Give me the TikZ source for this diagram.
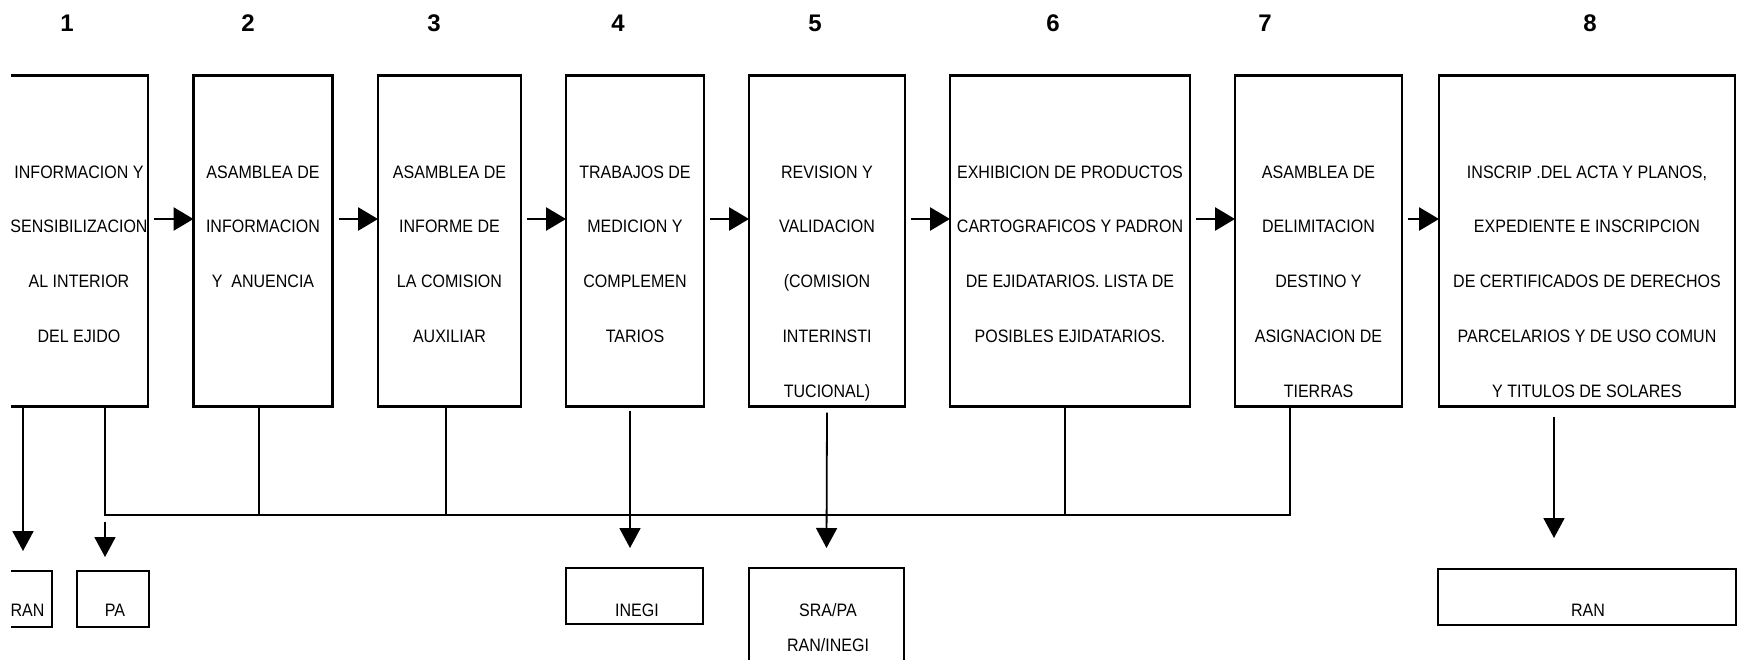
\documentclass[tikz,border=0pt]{standalone}
\usepackage{fontspec}
\setmainfont[FakeStretch=0.89]{Liberation Sans}
\newfontfamily\numfont{Liberation Sans}
\usetikzlibrary{arrows.meta,positioning}

\tikzset{
    stage/.style={draw, line width=2.4pt, inner sep=0pt, outer sep=0pt, minimum height=331pt},
    office/.style={draw, line width=2.4pt, inner sep=0pt, outer sep=0pt, minimum height=56pt},
    stagetext/.style={align=center, inner sep=0pt, anchor=north, font=\fontsize{18}{54.7}\selectfont},
    officetext/.style={align=center, inner sep=0pt, anchor=north, font=\fontsize{18}{35}\selectfont},
    stepno/.style={inner sep=0pt, font=\numfont\bfseries\fontsize{24}{24}\selectfont},
    flow/.style={line width=2.8pt, -{Triangle[length=20pt,width=23pt]}, shorten <=6pt},
    drop/.style={line width=1.8pt, -{Triangle[length=20pt,width=21pt]}},
    link/.style={line width=1.8pt}
}

\begin{document}
\begin{tikzpicture}[x=1pt, y=-1pt]
                \useasboundingbox (0,0) rectangle (1741,659);
                \clip (11,-10) rectangle (1760,680);
                % numbers
                \node[stepno] (n1) at (67,23.5) {1};
                \node[stepno] (n2) at (248,23.5) {2};
                \node[stepno] (n3) at (434,23.5) {3};
                \node[stepno] (n4) at (618,23.5) {4};
                \node[stepno] (n5) at (815,23.5) {5};
                \node[stepno] (n6) at (1053,23.5) {6};
                \node[stepno] (n7) at (1265,23.5) {7};
                \node[stepno] (n8) at (1590,23.5) {8};
                % stages
                \node[stage, minimum width=142pt] (b1) at (77,241) {};
                \node[stage, minimum width=139pt] (b2) at (263,241) {};
                \node[stage, minimum width=143pt] (b3) at (449.5,241) {};
                \node[stage, minimum width=138pt] (b4) at (635,241) {};
                \node[stage, minimum width=156pt] (b5) at (827,241) {};
                \node[stage, minimum width=240pt] (b6) at (1070,241) {};
                \node[stage, minimum width=167pt] (b7) at (1318.5,241) {};
                \node[stage, minimum width=296pt] (b8) at (1587,241) {};
                \node[stagetext, below=90pt of b1.north, xshift=2pt] (t1) {INFORMACION Y\\SENSIBILIZACION\\AL INTERIOR\\DEL EJIDO};
                \node[stagetext, below=90pt of b2.north] (t2) {ASAMBLEA DE\\INFORMACION\\Y\ \ ANUENCIA};
                \node[stagetext, below=90pt of b3.north] (t3) {ASAMBLEA DE\\INFORME DE\\LA COMISION\\AUXILIAR};
                \node[stagetext, below=90pt of b4.north] (t4) {TRABAJOS DE\\MEDICION Y\\COMPLEMEN\\TARIOS};
                \node[stagetext, below=90pt of b5.north] (t5) {REVISION Y\\VALIDACION\\(COMISION\\INTERINSTI\\TUCIONAL)};
                \node[stagetext, below=90pt of b6.north] (t6) {EXHIBICION DE PRODUCTOS\\CARTOGRAFICOS Y PADRON\\DE EJIDATARIOS. LISTA DE\\POSIBLES EJIDATARIOS.};
                \node[stagetext, below=90pt of b7.north] (t7) {ASAMBLEA DE\\DELIMITACION\\DESTINO Y\\ASIGNACION DE\\TIERRAS};
                \node[stagetext, below=90pt of b8.north] (t8) {INSCRIP .DEL ACTA Y PLANOS,\\EXPEDIENTE E INSCRIPCION\\DE CERTIFICADOS DE DERECHOS\\PARCELARIOS Y DE USO COMUN\\Y TITULOS DE SOLARES};
                % offices
                \node[office, minimum width=58pt] (r1) at (23,599) {};
                \node[office, minimum width=72pt] (pa) at (113,599) {};
                \node[office, minimum width=137pt] (inegi) at (634.5,596) {};
                \node[office, minimum width=155pt, minimum height=120pt] (sra) at (826.5,628) {};
                \node[office, minimum width=298pt] (r2) at (1587,597) {};
                \node[officetext] (tr1) at (27.5,603.5) {RAN};
                \node[officetext] (tpa) at (115,603.5) {PA};
                \node[officetext] (tinegi) at (637,603.5) {INEGI};
                \node[officetext] (tsra) at (828,603.5) {SRA/PA\\RAN/INEGI};
                \node[officetext] (tr2) at (1588,603.5) {RAN};
                % connectors
                \foreach \a/\b in {b1/b2,b2/b3,b3/b4,b4/b5,b5/b6,b6/b7,b7/b8}
                    \draw[flow] ([yshift=22pt]\a.east) -- ([yshift=22pt]\b.west);
                \coordinate (d1) at (105,515);
                \coordinate (d2) at (259,515);
                \coordinate (d3) at (446,515);
                \coordinate (d6) at (1065,515);
                \coordinate (d7) at (1290,515);
                \draw[link] (b1.south -| d1) -- (d1) -- (d7) -- (b7.south -| d7);
                \foreach \i in {2,3,6}
                    \draw[link] (b\i.south -| d\i) -- (d\i);
                \draw[drop] (b1.south -| r1) -- ([yshift=20pt]r1.north);
                \draw[drop] ([yshift=-7pt]d1) -- ([xshift=-8pt,yshift=14pt]pa.north);
                \draw[drop] ([xshift=-5pt,yshift=-4pt]b4.south) -- ([xshift=-4.5pt,yshift=20pt]inegi.north);
                \draw[drop] ([yshift=-6pt]b5.south) -- ([yshift=20pt]sra.north);
                \draw[drop] ([xshift=-33pt,yshift=-10pt]b8.south) -- ([xshift=-33pt,yshift=31pt]r2.north);
            \end{tikzpicture}
\end{document}
